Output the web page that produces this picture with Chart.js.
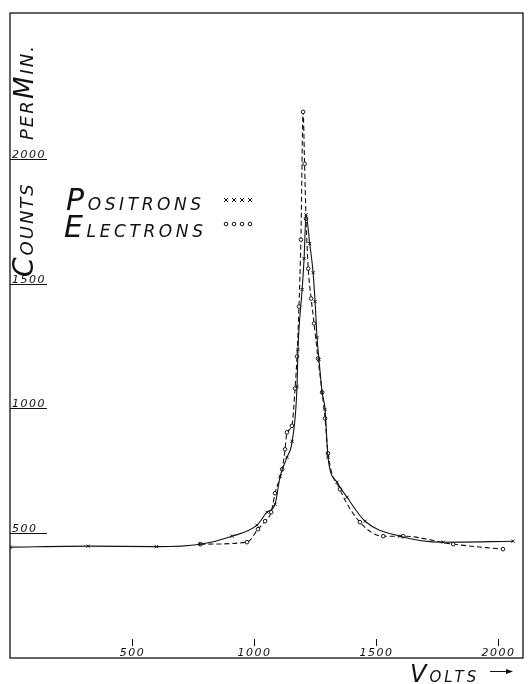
<!DOCTYPE html>
<html>
<head>
<meta charset="utf-8">
<script src="https://cdn.jsdelivr.net/npm/chart.js@4.4.0/dist/chart.umd.min.js"></script>
<style>
  body { margin: 0; background: #fff; }
  #wrap { width: 528px; height: 684px; }
</style>
</head>
<body>
<div id="wrap"><canvas id="chartPic" width="528" height="684"></canvas></div>
<script>
// positrons (solid curve, x marks)
const posVolts  = [0, 320, 600, 780, 910, 1012, 1053, 1086, 1107, 1135, 1156, 1176, 1180, 1197, 1205, 1213, 1228, 1242, 1250, 1258, 1266, 1279, 1291, 1303, 1340, 1381, 1455, 1598, 1775, 2061];
const posCounts = [444, 448, 446, 456, 488, 532, 584, 616, 728, 804, 868, 1088, 1236, 1476, 1600, 1776, 1660, 1544, 1428, 1284, 1196, 1064, 996, 804, 704, 644, 548, 488, 464, 468];

// electrons (dashed curve, circles)
const eleVolts  = [780, 971, 1016, 1045, 1070, 1086, 1115, 1127, 1135, 1155, 1168, 1176, 1184, 1192, 1201, 1207, 1213, 1222, 1234, 1246, 1262, 1279, 1291, 1303, 1352, 1434, 1529, 1611, 1816, 2020];
const eleCounts = [456, 464, 516, 548, 584, 660, 756, 836, 904, 930, 1080, 1208, 1408, 1676, 2188, 1980, 1760, 1560, 1440, 1340, 1200, 1064, 960, 820, 676, 544, 488, 488, 456, 436];

const xTicks = [500, 1000, 1500, 2000];
const yTicks = [500, 1000, 1500, 2000];

const xMax = 2102;
const yMax = 2584;

const face = '"DejaVu Sans"';

function pts(xs, ys) {
    return xs.map(function (v, i) { return {x: v, y: ys[i]}; });
}

// draws a run of [text, size] pieces (hand-lettered small caps)
function caps(ctx, parts, x, y, spacing) {
    ctx.letterSpacing = spacing + 'px';
    parts.forEach(function (p) {
        ctx.font = 'italic 200 ' + p[1] + 'px ' + face;
        ctx.fillText(p[0], x, y);
        x += ctx.measureText(p[0]).width;
    });
    ctx.letterSpacing = '0px';
    return x;
}

const decorations = {
    id: 'decorations',
    afterDraw: function (chart) {
        const ctx = chart.ctx;
        const a = chart.chartArea;
        const xs = chart.scales.x, ys = chart.scales.y;
        ctx.save();
        ctx.strokeStyle = '#111';
        ctx.fillStyle = '#111';
        ctx.lineWidth = 1.3;
        ctx.strokeRect(a.left, a.top, a.right - a.left, a.bottom - a.top);

        // y ticks: number written above a short rule
        ctx.lineWidth = 1;
        ctx.textAlign = 'left';
        ctx.textBaseline = 'alphabetic';
        yTicks.forEach(function (t) {
            const py = Math.round(ys.getPixelForValue(t)) + 0.5;
            ctx.beginPath();
            ctx.moveTo(a.left, py);
            ctx.lineTo(a.left + 37, py);
            ctx.stroke();
            ctx.font = 'italic 200 11px ' + face;
            ctx.letterSpacing = '1.5px';
            ctx.fillText(String(t), a.left + 2, py - 2);
            ctx.letterSpacing = '0px';
        });

        // x ticks: small mark with number under it, inside the frame
        ctx.textAlign = 'center';
        xTicks.forEach(function (t) {
            const px = Math.round(xs.getPixelForValue(t)) + 0.5;
            ctx.beginPath();
            ctx.moveTo(px, a.bottom - 19);
            ctx.lineTo(px, a.bottom - 12);
            ctx.stroke();
            ctx.font = 'italic 200 11px ' + face;
            ctx.letterSpacing = '1.5px';
            ctx.fillText(String(t), px, a.bottom - 2);
            ctx.letterSpacing = '0px';
        });
        ctx.textAlign = 'left';

        // y title, rotated
        ctx.save();
        ctx.translate(33, 277);
        ctx.rotate(-Math.PI / 2);
        caps(ctx, [['C', 28], ['OUNTS', 18]], 0, 0, 2);
        caps(ctx, [['PER', 18]], 137, 0, 2);
        caps(ctx, [['M', 26], ['IN.', 18]], 178, 0, 2);
        ctx.restore();

        // legend
        caps(ctx, [['P', 30], ['OSITRONS', 17]], 66, 210, 3.6);
        caps(ctx, [['E', 30], ['LECTRONS', 17]], 64, 237, 3.6);
        ctx.lineWidth = 1;
        [226, 234, 242, 250].forEach(function (mx) {
            ctx.beginPath();
            ctx.moveTo(mx - 2, 198); ctx.lineTo(mx + 2, 202);
            ctx.moveTo(mx + 2, 198); ctx.lineTo(mx - 2, 202);
            ctx.stroke();
            ctx.beginPath();
            ctx.arc(mx, 224, 1.8, 0, Math.PI * 2);
            ctx.stroke();
        });

        // x title with arrow
        caps(ctx, [['V', 24], ['OLTS', 15]], 410, 682, 3);
        ctx.beginPath();
        ctx.moveTo(490, 671.5);
        ctx.lineTo(512, 671.5);
        ctx.stroke();
        ctx.beginPath();
        ctx.moveTo(513, 671.5);
        ctx.lineTo(506, 669);
        ctx.lineTo(506, 674);
        ctx.closePath();
        ctx.fill();
        ctx.restore();
    }
};

const ctx = document.getElementById('chartPic');
const myChart = new Chart(ctx, {
    type: 'line',
    data: {
        datasets: [
            {
                label: 'Positrons',
                data: pts(posVolts, posCounts),
                borderColor: '#111',
                borderWidth: 1.1,
                pointStyle: 'crossRot',
                pointRadius: 2.2,
                pointBorderColor: '#111',
                pointBorderWidth: 1,
                cubicInterpolationMode: 'monotone'
            },
            {
                label: 'Electrons',
                data: pts(eleVolts, eleCounts),
                borderColor: '#111',
                borderWidth: 1.1,
                borderDash: [5, 3],
                pointStyle: 'circle',
                pointRadius: 1.8,
                pointBackgroundColor: '#fff',
                pointBorderColor: '#111',
                pointBorderWidth: 1,
                cubicInterpolationMode: 'monotone'
            }
        ]
    },
    options: {
        responsive: false,
        animation: false,
        layout: {
            padding: {left: 10, top: 13, right: 5, bottom: 26}
        },
        scales: {
            x: {type: 'linear', min: 0, max: xMax, display: false},
            y: {type: 'linear', min: 0, max: yMax, display: false}
        },
        plugins: {
            legend: {display: false},
            tooltip: {enabled: false}
        }
    },
    plugins: [decorations]
});
</script>
</body>
</html>
